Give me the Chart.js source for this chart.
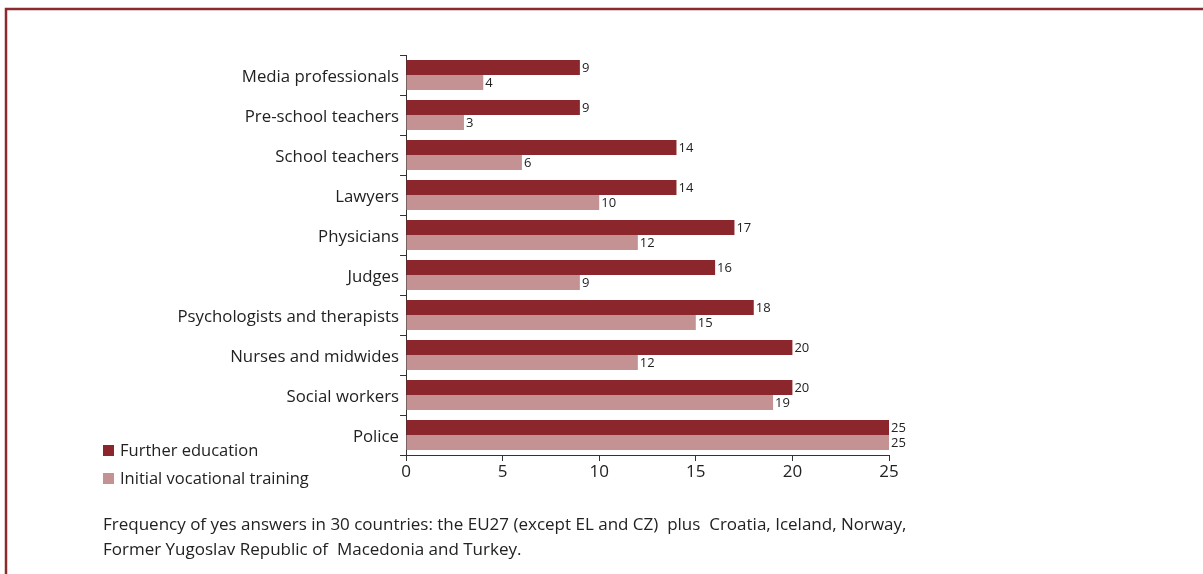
<!DOCTYPE html>
<html>
<head>
<meta charset="utf-8"/>
<title>Training on the topic, by profession</title>
<script src="https://cdn.jsdelivr.net/npm/chart.js@4.4.1/dist/chart.umd.min.js"></script>
<style>
  html, body { margin: 0; padding: 0; background: #fff; }
  #wrap { width: 1203px; height: 574px; position: relative; }
</style>
</head>
<body>
<div id="wrap">
  <canvas id="chart" width="1203" height="574"></canvas>
</div>
<script>
var professions = ['Media professionals', 'Pre-school teachers', 'School teachers', 'Lawyers',
  'Physicians', 'Judges', 'Psychologists and therapists', 'Nurses and midwides',
  'Social workers', 'Police'];
var furtherEducation = [9, 9, 14, 14, 17, 16, 18, 20, 20, 25];
var initialTraining = [4, 3, 6, 10, 12, 9, 15, 12, 19, 25];
var xTicks = [0, 5, 10, 15, 20, 25];
var caption = [
  'Frequency of yes answers in 30 countries: the EU27 (except EL and CZ)  plus  Croatia, Iceland, Norway,',
  'Former Yugoslav Republic of  Macedonia and Turkey.'
];

var DARK = '#8a262c';
var LIGHT = '#c59294';
var FONT = '"Open Sans", "DejaVu Sans", sans-serif';

// frame, value labels, legend and caption
var extras = {
  id: 'extras',
  beforeDraw: function(chart) {
    var ctx = chart.ctx;
    ctx.save();
    ctx.strokeStyle = '#8b2a2f';
    ctx.lineWidth = 2.5;
    ctx.beginPath();
    ctx.moveTo(6, 574);
    ctx.lineTo(6, 9);
    ctx.lineTo(1203, 9);
    ctx.stroke();
    ctx.restore();
  },
  afterDatasetsDraw: function(chart) {
    var ctx = chart.ctx;
    ctx.save();
    ctx.font = '13px ' + FONT;
    ctx.fillStyle = '#222';
    ctx.textBaseline = 'middle';
    ctx.textAlign = 'left';
    chart.data.datasets.forEach(function(ds, i) {
      chart.getDatasetMeta(i).data.forEach(function(bar, j) {
        ctx.fillText(ds.data[j], bar.x + 2, bar.y + 1);
      });
    });

    // legend
    ctx.font = '16.5px ' + FONT;
    chart.data.datasets.forEach(function(ds, i) {
      var y = 450 + i * 28;
      ctx.fillStyle = ds.backgroundColor;
      ctx.fillRect(103, y - 5, 11, 11);
      ctx.fillStyle = '#222';
      ctx.fillText(ds.label, 120, y + 1, 192);
    });

    // caption
    ctx.font = '17px ' + FONT;
    ctx.fillText(caption[0], 103, 525, 808);
    ctx.fillText(caption[1], 103, 550, 516);
    ctx.restore();
  }
};

new Chart(document.getElementById('chart'), {
  type: 'bar',
  data: {
    labels: professions,
    datasets: [
      { label: 'Further education', data: furtherEducation, backgroundColor: DARK },
      { label: 'Initial vocational training', data: initialTraining, backgroundColor: LIGHT }
    ]
  },
  options: {
    indexAxis: 'y',
    responsive: false,
    animation: false,
    events: [],
    layout: { padding: { left: 0, right: 314, top: 55, bottom: 89 } },
    datasets: { bar: { categoryPercentage: 0.75, barPercentage: 1.0 } },
    plugins: { legend: { display: false }, tooltip: { enabled: false } },
    scales: {
      x: {
        min: 0, max: 25,
        afterBuildTicks: function(scale) {
          scale.ticks = xTicks.map(function(v) { return { value: v }; });
        },
        afterFit: function(scale) { scale.height = 30; },
        border: { color: '#333', width: 1 },
        grid: { drawOnChartArea: false, drawTicks: true, tickLength: 6, color: '#333' },
        ticks: { color: '#222', padding: 1, font: { family: FONT, size: 17 } }
      },
      y: {
        afterFit: function(scale) { scale.width = 406; },
        border: { color: '#333', width: 1 },
        grid: { drawOnChartArea: false, drawTicks: true, tickLength: 6, color: '#333', offset: true },
        ticks: { color: '#222', padding: 1, labelOffset: 2, font: { family: FONT, size: 16.8 } }
      }
    }
  },
  plugins: [extras]
});
</script>
</body>
</html>
